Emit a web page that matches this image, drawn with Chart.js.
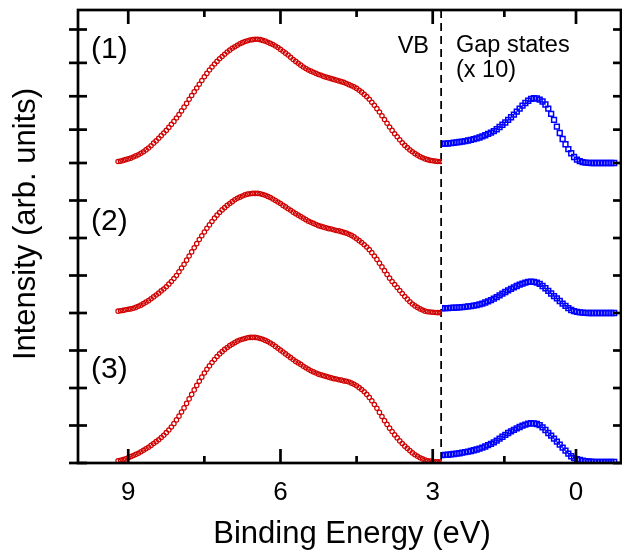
<!DOCTYPE html>
<html>
<head>
<meta charset="utf-8">
<script src="https://cdn.jsdelivr.net/npm/chart.js@4.4.1/dist/chart.umd.min.js"></script>
<style>
  html, body { margin: 0; padding: 0; background: #fff; }
  canvas { display: block; }
</style>
</head>
<body>
<canvas id="chart" width="622" height="551"></canvas>
<script>
// Binding energy grid of the valence band scans (eV)
const vbEnergy = [
    9.20, 9.15, 9.10, 9.05, 9.00, 8.95, 8.90, 8.85, 8.80, 8.75,
    8.70, 8.65, 8.60, 8.55, 8.50, 8.45, 8.40, 8.35, 8.30, 8.25,
    8.20, 8.15, 8.10, 8.05, 8.00, 7.95, 7.90, 7.85, 7.80, 7.75,
    7.70, 7.65, 7.60, 7.55, 7.50, 7.45, 7.40, 7.35, 7.30, 7.25,
    7.20, 7.15, 7.10, 7.05, 7.00, 6.95, 6.90, 6.85, 6.80, 6.75,
    6.70, 6.65, 6.60, 6.55, 6.50, 6.45, 6.40, 6.35, 6.30, 6.25,
    6.20, 6.15, 6.10, 6.05, 6.00, 5.95, 5.90, 5.85, 5.80, 5.75,
    5.70, 5.65, 5.60, 5.55, 5.50, 5.45, 5.40, 5.35, 5.30, 5.25,
    5.20, 5.15, 5.10, 5.05, 5.00, 4.95, 4.90, 4.85, 4.80, 4.75,
    4.70, 4.65, 4.60, 4.55, 4.50, 4.45, 4.40, 4.35, 4.30, 4.25,
    4.20, 4.15, 4.10, 4.05, 4.00, 3.95, 3.90, 3.85, 3.80, 3.75,
    3.70, 3.65, 3.60, 3.55, 3.50, 3.45, 3.40, 3.35, 3.30, 3.25,
    3.20, 3.15, 3.10, 3.05, 3.00, 2.95, 2.90, 2.85, 2.80
];

// VB intensities (arb. units), spectra (1), (2), (3)
const vb1 = [
    0.4, 0.5, 0.7, 0.9, 1.1, 1.3, 1.6, 1.9, 2.2, 2.6,
    3.0, 3.5, 4.0, 4.6, 5.3, 5.9, 6.6, 7.3, 8.0, 8.7,
    9.5, 10.3, 11.1, 12.0, 12.9, 13.9, 14.9, 15.9, 17.0, 18.0,
    19.0, 20.0, 21.0, 22.0, 23.0, 23.9, 24.8, 25.6, 26.4, 27.1,
    27.8, 28.4, 29.0, 29.6, 30.1, 30.6, 31.0, 31.4, 31.8, 32.1,
    32.4, 32.6, 32.8, 32.9, 33.0, 33.0, 32.9, 32.7, 32.5, 32.2,
    31.9, 31.6, 31.2, 30.8, 30.3, 29.8, 29.3, 28.8, 28.2, 27.6,
    27.1, 26.6, 26.1, 25.6, 25.2, 24.8, 24.5, 24.2, 23.9, 23.6,
    23.4, 23.1, 22.9, 22.7, 22.5, 22.3, 22.1, 21.9, 21.7, 21.5,
    21.2, 20.9, 20.6, 20.3, 19.9, 19.4, 18.9, 18.3, 17.7, 17.0,
    16.2, 15.4, 14.5, 13.6, 12.6, 11.6, 10.6, 9.6, 8.7, 7.8,
    7.0, 6.2, 5.4, 4.7, 4.1, 3.5, 3.0, 2.5, 2.1, 1.7,
    1.4, 1.1, 0.9, 0.7, 0.6, 0.5, 0.4, 0.4, 0.4
];
const vb2 = [
    0.5, 0.6, 0.7, 0.85, 1.0, 1.1, 1.25, 1.5, 1.8, 2.1,
    2.5, 2.9, 3.3, 3.8, 4.3, 4.8, 5.3, 5.9, 6.4, 7.0,
    7.7, 8.4, 9.2, 10.0, 11.0, 12.0, 13.0, 14.1, 15.2, 16.3,
    17.4, 18.5, 19.6, 20.6, 21.6, 22.6, 23.5, 24.4, 25.3, 26.1,
    26.8, 27.5, 28.1, 28.7, 29.2, 29.7, 30.2, 30.6, 30.9, 31.2,
    31.5, 31.7, 31.8, 31.9, 31.9, 31.9, 31.8, 31.6, 31.4, 31.1,
    30.8, 30.4, 30.0, 29.6, 29.2, 28.7, 28.3, 27.8, 27.4, 26.9,
    26.5, 26.1, 25.7, 25.3, 24.9, 24.5, 24.2, 23.9, 23.6, 23.3,
    23.1, 22.9, 22.7, 22.5, 22.4, 22.2, 22.0, 21.9, 21.7, 21.5,
    21.3, 21.0, 20.7, 20.3, 19.8, 19.3, 18.8, 18.2, 17.6, 16.9,
    16.1, 15.2, 14.3, 13.3, 12.3, 11.3, 10.3, 9.3, 8.4, 7.6,
    6.8, 6.0, 5.2, 4.4, 3.7, 3.0, 2.4, 1.9, 1.5, 1.1,
    0.8, 0.5, 0.35, 0.25, 0.2, 0.15, 0.1, 0.1, 0.1
];
const vb3 = [
    0.6, 0.7, 0.9, 1.1, 1.4, 1.7, 2.0, 2.3, 2.6, 3.0,
    3.4, 3.8, 4.2, 4.7, 5.2, 5.7, 6.2, 6.8, 7.4, 8.1,
    8.8, 9.6, 10.5, 11.5, 12.5, 13.6, 14.7, 15.9, 17.1, 18.3,
    19.5, 20.7, 21.8, 22.9, 24.0, 25.0, 25.9, 26.8, 27.6, 28.4,
    29.1, 29.7, 30.3, 30.8, 31.3, 31.7, 32.1, 32.5, 32.8, 33.0,
    33.2, 33.4, 33.5, 33.5, 33.5, 33.4, 33.2, 33.0, 32.7, 32.4,
    32.0, 31.6, 31.1, 30.6, 30.1, 29.6, 29.1, 28.6, 28.1, 27.6,
    27.1, 26.7, 26.3, 25.8, 25.4, 25.0, 24.6, 24.3, 24.0, 23.7,
    23.5, 23.3, 23.1, 22.9, 22.7, 22.5, 22.4, 22.2, 22.1, 21.9,
    21.8, 21.6, 21.3, 21.0, 20.6, 20.1, 19.6, 19.0, 18.3, 17.5,
    16.6, 15.6, 14.6, 13.5, 12.4, 11.3, 10.3, 9.3, 8.4, 7.5,
    6.7, 5.9, 5.2, 4.5, 3.9, 3.3, 2.7, 2.2, 1.8, 1.4,
    1.1, 0.8, 0.6, 0.5, 0.4, 0.35, 0.3, 0.3, 0.3
];

// Gap state region (eV), intensities already x 10
const gapEnergy = [
    2.80, 2.74, 2.68, 2.62, 2.56, 2.50, 2.44, 2.38, 2.32, 2.26,
    2.20, 2.14, 2.08, 2.02, 1.96, 1.90, 1.84, 1.78, 1.72, 1.66,
    1.60, 1.54, 1.48, 1.42, 1.36, 1.30, 1.24, 1.18, 1.12, 1.06,
    1.00, 0.94, 0.88, 0.82, 0.76, 0.70, 0.64, 0.58, 0.52, 0.46,
    0.40, 0.34, 0.28, 0.22, 0.16, 0.10, 0.04, -0.02, -0.08, -0.14,
    -0.20, -0.26, -0.32, -0.38, -0.44, -0.50, -0.56, -0.62, -0.68, -0.74,
    -0.80
];
const gap1 = [
    5.1, 5.15, 5.2, 5.3, 5.4, 5.5, 5.6, 5.7, 5.85, 6.0,
    6.15, 6.35, 6.55, 6.8, 7.1, 7.4, 7.75, 8.1, 8.5, 9.0,
    9.6, 10.2, 10.8, 11.5, 12.2, 12.9, 13.7, 14.5, 15.3, 16.0,
    16.6, 17.1, 17.3, 17.2, 16.9, 16.4, 15.6, 14.5, 13.1, 11.5,
    9.7, 8.0, 6.4, 5.0, 3.7, 2.6, 1.6, 0.9, 0.5, 0.25,
    0.1, 0.05, 0, 0, 0, 0, 0, 0, 0, 0,
    0
];
const gap2 = [
    1.25, 1.28, 1.3, 1.35, 1.4, 1.45, 1.5, 1.55, 1.65, 1.75,
    1.85, 1.95, 2.1, 2.3, 2.5, 2.8, 3.1, 3.45, 3.85, 4.25,
    4.7, 5.15, 5.6, 6.05, 6.45, 6.85, 7.2, 7.55, 7.85, 8.1,
    8.3, 8.35, 8.3, 8.1, 7.75, 7.2, 6.6, 5.9, 5.2, 4.5,
    3.9, 3.2, 2.5, 1.9, 1.3, 0.8, 0.5, 0.3, 0.15, 0.1,
    0.05, 0, 0, 0, 0, 0, 0, 0, 0, 0,
    0
];
const gap3 = [
    2.1, 2.15, 2.2, 2.3, 2.4, 2.5, 2.6, 2.75, 2.9, 3.05,
    3.2, 3.4, 3.6, 3.85, 4.1, 4.4, 4.75, 5.1, 5.5, 5.95,
    6.5, 7.0, 7.5, 8.0, 8.45, 8.85, 9.25, 9.6, 9.95, 10.25,
    10.5, 10.6, 10.55, 10.4, 10.1, 9.5, 8.8, 8.0, 7.3, 6.5,
    5.7, 4.9, 4.1, 3.3, 2.5, 1.8, 1.3, 1.0, 0.8, 0.6,
    0.5, 0.4, 0.35, 0.3, 0.3, 0.3, 0.3, 0.3, 0.3, 0.3,
    0.3
];

// vertical offsets of the stacked spectra (1), (2), (3)
const traceOffsets = [80, 40, 0];
const traceNames = ["(1)", "(2)", "(3)"];

// axes
const vbEdge = 2.82;                       // VB / gap-state boundary
const vbTicks = [9, 7.5, 6, 4.5, 3];
const gapTicks = [1.5, 0];
const labelledTicks = [9, 6, 3, 0];
const yTicks = [0, 10, 20, 30, 40, 50, 60, 70, 80, 88.9, 97.8, 106.7, 115.6];
const yTop = 120.8;

const FONT = '"Liberation Sans", Arial, Helvetica, sans-serif';
const RED = "#d00000";
const BLUE = "#0000ff";

Chart.defaults.font.family = FONT;
Chart.defaults.color = "#000";

function toPoints(xs, ys, offset) {
    return xs.map((x, i) => ({ x: x, y: ys[i] + offset }));
}

const vbSets = [vb1, vb2, vb3].map((ys, i) => ({
    label: "VB " + traceNames[i],
    data: toPoints(vbEnergy, ys, traceOffsets[i]),
    xAxisID: "x",
    yAxisID: "y",
    pointStyle: "circle",
    pointRadius: 2.2,
    pointBorderWidth: 1.2,
    borderColor: RED,
    backgroundColor: "rgba(0,0,0,0)",
    showLine: false
}));

const gapSets = [gap1, gap2, gap3].map((ys, i) => ({
    label: "Gap " + traceNames[i],
    data: toPoints(gapEnergy, ys, traceOffsets[i]),
    xAxisID: "x2",
    yAxisID: "y",
    pointStyle: "rect",
    pointRadius: 3.4,
    pointBorderWidth: 1.5,
    borderColor: BLUE,
    backgroundColor: "rgba(0,0,0,0)",
    showLine: false
}));

const edgeLine = {
    label: "VB edge",
    data: [{ x: vbEdge, y: yTop }, { x: vbEdge, y: 0 }],
    xAxisID: "x",
    yAxisID: "y",
    showLine: true,
    pointRadius: 0,
    borderColor: "#000",
    borderWidth: 3.2,
    borderDash: [8, 5]
};

// frame, inward ticks and the free text
const framePlugin = {
    id: "frame",
    afterDatasetsDraw(chart) {
        const { ctx, chartArea: a, scales } = chart;
        const seg = (x1, y1, x2, y2) => {
            ctx.beginPath();
            ctx.moveTo(x1, y1);
            ctx.lineTo(x2, y2);
            ctx.stroke();
        };
        ctx.save();
        ctx.strokeStyle = "#000";
        ctx.lineWidth = 2.7;
        ctx.strokeRect(a.left, a.top, a.right - a.left, a.bottom - a.top);

        [scales.x, scales.x2].forEach(s => {
            s.ticks.forEach(t => {
                const px = s.getPixelForValue(t.value);
                const len = t.label ? 14 : 7;
                seg(px, a.bottom, px, a.bottom - len);
                seg(px, a.top, px, a.top + len);
            });
        });
        scales.y.ticks.forEach(t => {
            const py = scales.y.getPixelForValue(t.value);
            seg(a.left - 9, py, a.left + 9, py);
            seg(a.right - 8, py, a.right + 2, py);
        });

        ctx.fillStyle = "#000";
        ctx.font = "31px " + FONT;
        ctx.textAlign = "center";
        ctx.textBaseline = "alphabetic";
        ctx.fillText("Binding Energy (eV)", 352, 543);

        ctx.save();
        ctx.translate(26, 224);
        ctx.rotate(-Math.PI / 2);
        ctx.textBaseline = "middle";
        ctx.fillText("Intensity (arb. units)", 0, 0);
        ctx.restore();

        ctx.font = "30px " + FONT;
        ctx.textAlign = "left";
        ctx.textBaseline = "middle";
        ctx.fillText(traceNames[0], 91, 50);
        ctx.fillText(traceNames[1], 91, 222);
        ctx.fillText(traceNames[2], 91, 370);

        ctx.font = "23.5px " + FONT;
        ctx.textBaseline = "alphabetic";
        ctx.textAlign = "right";
        ctx.fillText("VB", 429, 53);
        ctx.textAlign = "left";
        ctx.fillText("Gap states", 456, 52);
        ctx.fillText("(x 10)", 456, 77);
        ctx.restore();
    }
};

const energyTicks = {
    padding: 14,
    font: { size: 26 },
    color: "#000",
    autoSkip: false,
    maxRotation: 0,
    callback: v => (labelledTicks.includes(v) ? String(v) : "")
};

// keep the plot box fixed: no label overhang padding
function fixEnergyAxis(s) {
    s.height = 88;
    s.paddingLeft = 0;
    s.paddingRight = 0;
}

new Chart(document.getElementById("chart"), {
    type: "scatter",
    data: { datasets: [...vbSets, ...gapSets, edgeLine] },
    options: {
        responsive: false,
        animation: false,
        devicePixelRatio: 1,
        layout: { autoPadding: false, padding: { top: 10, right: 1, left: 0, bottom: 0 } },
        plugins: {
            legend: { display: false },
            tooltip: { enabled: false }
        },
        scales: {
            x: {
                type: "linear",
                position: "bottom",
                stack: "energy",
                stackWeight: 364,
                reverse: true,
                min: 2.817,
                max: 9.99,
                grid: { display: false, drawTicks: false },
                border: { display: false },
                afterBuildTicks: s => { s.ticks = vbTicks.map(v => ({ value: v })); },
                afterFit: fixEnergyAxis,
                ticks: energyTicks
            },
            x2: {
                type: "linear",
                position: "bottom",
                stack: "energy",
                stackWeight: 179,
                reverse: true,
                min: -0.942,
                max: 2.805,
                grid: { display: false, drawTicks: false },
                border: { display: false },
                afterBuildTicks: s => { s.ticks = gapTicks.map(v => ({ value: v })); },
                afterFit: fixEnergyAxis,
                ticks: energyTicks
            },
            y: {
                type: "linear",
                position: "left",
                min: 0,
                max: yTop,
                grid: { display: false, drawTicks: false },
                border: { display: false },
                ticks: { display: false },
                afterBuildTicks: s => { s.ticks = yTicks.map(v => ({ value: v })); },
                afterFit: s => { s.width = 78; s.paddingTop = 0; s.paddingBottom = 0; }
            }
        }
    },
    plugins: [framePlugin]
});
</script>
</body>
</html>
